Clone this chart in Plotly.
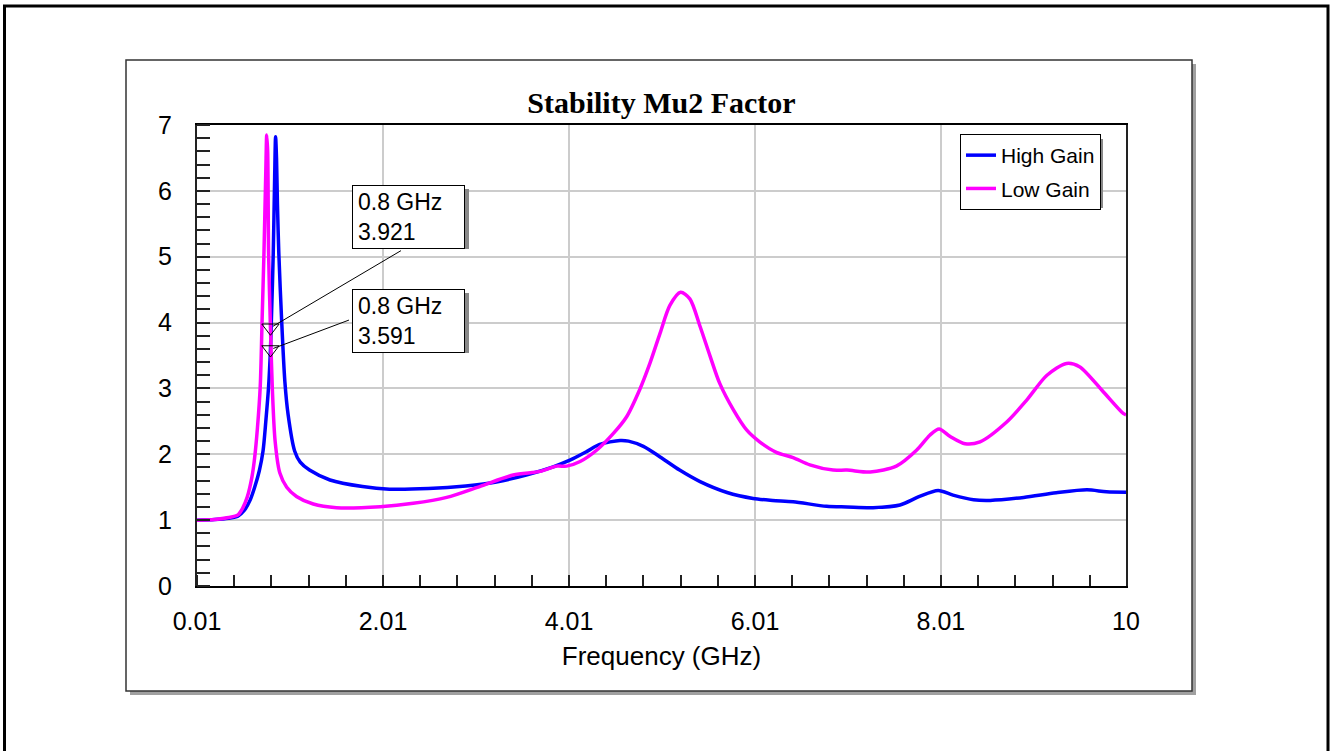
import plotly.graph_objects as go

# ---------------- data ----------------
high_freq = [0.01, 0.2, 0.35, 0.45, 0.52, 0.58, 0.63, 0.68, 0.72, 0.75, 0.78, 0.80, 0.81, 0.83,
             0.845, 0.855, 0.865, 0.875, 0.89, 0.92, 0.955, 0.99, 1.06, 1.12, 1.22, 1.44, 1.79,
             2.08, 2.5, 2.9, 3.23, 3.55, 3.84, 4.02, 4.2, 4.34, 4.56, 4.65, 4.81, 4.99, 5.2,
             5.42, 5.71, 5.99, 6.2, 6.42, 6.78, 7.0, 7.28, 7.57, 7.78, 7.98, 8.14, 8.36, 8.54,
             8.9, 9.25, 9.58, 9.79, 10.0]
high_gain = [1.00, 1.01, 1.03, 1.06, 1.15, 1.3, 1.5, 1.75, 2.05, 2.5, 3.03, 3.59, 4.04, 5.05,
             6.2, 6.82, 6.5, 5.8, 5.05, 4.04, 3.1, 2.6, 2.05, 1.88, 1.76, 1.61, 1.51,
             1.47, 1.48, 1.52, 1.58, 1.685, 1.81, 1.91, 2.04, 2.15, 2.21, 2.2, 2.12, 1.96, 1.76,
             1.585, 1.42, 1.33, 1.3, 1.28, 1.21, 1.2, 1.19, 1.23, 1.36, 1.45, 1.38, 1.31, 1.3,
             1.345, 1.415, 1.46, 1.43, 1.425]

low_freq = [0.01, 0.2, 0.35, 0.45, 0.5, 0.55, 0.6, 0.63, 0.66, 0.69, 0.71, 0.73, 0.75, 0.76,
            0.77, 0.78, 0.80, 0.82, 0.85, 0.9, 0.975, 1.08, 1.26, 1.51, 1.98, 2.335, 2.695,
            3.05, 3.41, 3.7, 3.88, 3.985, 4.13, 4.31, 4.49, 4.63, 4.77, 4.88, 4.99, 5.095,
            5.21, 5.31, 5.42, 5.53, 5.63, 5.78, 5.92, 6.06, 6.24, 6.42, 6.6, 6.85, 7.0, 7.25,
            7.53, 7.75, 7.89, 7.99, 8.11, 8.27, 8.43, 8.72, 8.93, 9.15, 9.36, 9.5, 9.755,
            9.97, 10.0]
low_gain = [1.00, 1.01, 1.04, 1.08, 1.18, 1.35, 1.65, 1.95, 2.4, 3.03, 4.04, 5.05, 6.3, 6.85,
            6.6, 5.05, 3.92, 3.0, 2.2, 1.72, 1.5, 1.36, 1.245, 1.19, 1.205, 1.255, 1.345,
            1.51, 1.685, 1.74, 1.82, 1.82, 1.89, 2.065, 2.32, 2.57, 2.98, 3.38, 3.84, 4.26,
            4.46, 4.36, 3.94, 3.48, 3.08, 2.67, 2.37, 2.19, 2.03, 1.95, 1.84, 1.76, 1.76, 1.73,
            1.82, 2.065, 2.29, 2.385, 2.27, 2.16, 2.19, 2.495, 2.82, 3.2, 3.38, 3.33, 2.95,
            2.62, 2.6]

marker_freq = [0.8, 0.8]
marker_vals = [3.921, 3.591]

x_tickvals = [0.01, 2.01, 4.01, 6.01, 8.01, 10]
x_ticktext = ["0.01", "2.01", "4.01", "6.01", "8.01", "10"]
y_tickvals = [0, 1, 2, 3, 4, 5, 6, 7]

# ---------------- geometry helpers (pixel -> paper) ----------------
W, H = 1331, 751
L, R, T, B = 197, 205, 125, 165
PW, PH = W - L - R, H - T - B


def px(x):
    return (x - L) / PW


def py(y):
    return (H - B - y) / PH


FONT = "Liberation Sans, Arial, sans-serif"

fig = go.Figure()

fig.add_trace(go.Scatter(x=high_freq, y=high_gain, mode="lines", name="High Gain",
                         legendgroup="a",
                         line=dict(color="#0000ff", width=3.5, shape="spline", smoothing=0.8)))
fig.add_trace(go.Scatter(x=low_freq, y=low_gain, mode="lines", name="Low Gain",
                         legendgroup="b",
                         line=dict(color="#ff00ff", width=3.5, shape="spline", smoothing=0.8)))
fig.add_trace(go.Scatter(x=marker_freq, y=marker_vals, mode="markers", showlegend=False,
                         marker=dict(symbol="triangle-down-open", size=15, color="black",
                                     line=dict(width=1, color="black"))))

shapes = []
# outer frame
shapes.append(dict(type="rect", xref="paper", yref="paper", layer="below",
                   x0=px(4.5), x1=px(1328), y0=py(770), y1=py(6),
                   line=dict(color="black", width=3), fillcolor="white"))
# chart panel shadow + panel
shapes.append(dict(type="rect", xref="paper", yref="paper", layer="below",
                   x0=px(130), x1=px(1196), y0=py(695), y1=py(64),
                   line=dict(width=0), fillcolor="#a0a0a0"))
shapes.append(dict(type="rect", xref="paper", yref="paper", layer="below",
                   x0=px(126), x1=px(1192), y0=py(691), y1=py(60),
                   line=dict(color="#333333", width=1.5), fillcolor="white"))
# legend shadow
shapes.append(dict(type="rect", xref="paper", yref="paper", layer="above",
                   x0=px(965), x1=px(1103), y0=py(208), y1=py(139),
                   line=dict(width=0), fillcolor="#888888"))
# annotation box shadows
for top in (185, 289):
    shapes.append(dict(type="rect", xref="paper", yref="paper", layer="above",
                       x0=px(356), x1=px(469), y0=py(top + 64), y1=py(top + 4),
                       line=dict(width=0), fillcolor="#888888"))

annotations = []
# leader lines
for f, v, ax, ay in [(marker_freq[0], marker_vals[0], 132, -78),
                     (marker_freq[1], marker_vals[1], 80, -30)]:
    annotations.append(dict(x=f, y=v, xref="x", yref="y", text="", showarrow=True,
                            arrowhead=0, arrowwidth=1, arrowcolor="black",
                            ax=ax, ay=ay, standoff=3))
# label boxes
for f, v, top in [(marker_freq[0], marker_vals[0], 185), (marker_freq[1], marker_vals[1], 289)]:
    annotations.append(dict(x=px(351.5), y=py(top), xref="paper", yref="paper",
                            xanchor="left", yanchor="top", showarrow=False,
                            text=f"{f:g} GHz<br>{v:.3f}", align="left",
                            width=101, height=52, borderpad=5, valign="middle",
                            bgcolor="white", bordercolor="black", borderwidth=1,
                            font=dict(family=FONT, size=23, color="black")))

fig.update_layout(
    width=W, height=H, autosize=False,
    margin=dict(l=L, r=R, t=T, b=B, pad=0),
    paper_bgcolor="white", plot_bgcolor="white",
    title=dict(text="<b>Stability Mu2 Factor</b>", xref="paper", x=0.5, xanchor="center",
               yref="container", y=1 - 102 / H, yanchor="middle",
               font=dict(family="Liberation Serif, Times New Roman, serif", size=30, color="black")),
    showlegend=True,
    legend=dict(x=px(960), y=py(134), xanchor="left", yanchor="top",
                bgcolor="white", bordercolor="black", borderwidth=1,
                font=dict(family=FONT, size=21, color="black"),
                tracegroupgap=3, traceorder="grouped", itemwidth=30),
    shapes=shapes,
    annotations=annotations,
    xaxis=dict(range=[0.01, 10], tickvals=x_tickvals, ticktext=x_ticktext,
               showgrid=True, gridcolor="#cccccc", gridwidth=1.5,
               ticks="", showline=True, linecolor="black", linewidth=1.5, mirror=True,
               zeroline=False, ticklabelstandoff=12,
               tickfont=dict(family=FONT, size=25, color="black"),
               minor=dict(tick0=0.01, dtick=0.4, ticks="inside", ticklen=11,
                          tickcolor="#222222", tickwidth=1.5, showgrid=False),
               title=dict(text="Frequency (GHz)", standoff=13,
                          font=dict(family=FONT, size=26, color="black"))),
    yaxis=dict(range=[0, 7], tickvals=y_tickvals,
               showgrid=True, gridcolor="#cccccc", gridwidth=1.5,
               ticks="", showline=True, linecolor="#222222", linewidth=2, mirror=True,
               zeroline=False, ticklabelstandoff=18,
               tickfont=dict(family=FONT, size=25, color="black"),
               minor=dict(tick0=0, dtick=0.2, ticks="inside", ticklen=13,
                          tickcolor="#222222", tickwidth=1.5, showgrid=False)),
)

fig.write_html("out.html")
